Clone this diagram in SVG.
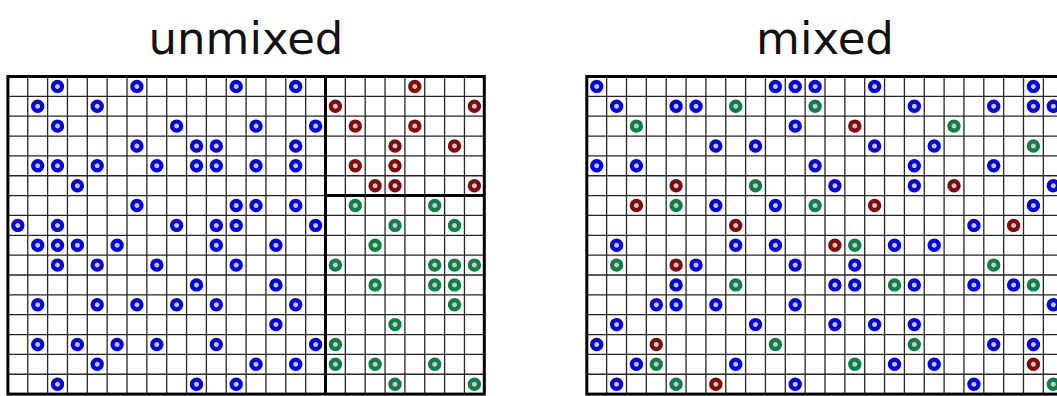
<svg xmlns="http://www.w3.org/2000/svg" xmlns:xlink="http://www.w3.org/1999/xlink" width="1057" height="396" viewBox="0 0 1057 396">
<style>
.title{font-family:"DejaVu Sans","Liberation Sans",sans-serif;font-size:45px;fill:#111;text-anchor:middle}
.grid{fill:none;stroke:#262626;stroke-width:1.3}
.border{fill:none;stroke:#000;stroke-width:3}
</style>
<defs>
<circle id="b" r="4.6" fill="#c8c8c8" stroke="#0000e6" stroke-width="4.2"/>
<circle id="r" r="4.6" fill="#c8c8c8" stroke="#820808" stroke-width="4.2"/>
<circle id="g" r="4.6" fill="#c8c8c8" stroke="#0a8046" stroke-width="4.2"/>
<path id="lines" d="M19.85 0V317.6M39.7 0V317.6M59.55 0V317.6M79.4 0V317.6M99.25 0V317.6M119.1 0V317.6M138.95 0V317.6M158.8 0V317.6M178.65 0V317.6M198.5 0V317.6M218.35 0V317.6M238.2 0V317.6M258.05 0V317.6M277.9 0V317.6M297.75 0V317.6M317.6 0V317.6M337.45 0V317.6M357.3 0V317.6M377.15 0V317.6M397 0V317.6M416.85 0V317.6M436.7 0V317.6M456.55 0V317.6M0 19.85H476.4M0 39.7H476.4M0 59.55H476.4M0 79.4H476.4M0 99.25H476.4M0 119.1H476.4M0 138.95H476.4M0 158.8H476.4M0 178.65H476.4M0 198.5H476.4M0 218.35H476.4M0 238.2H476.4M0 258.05H476.4M0 277.9H476.4M0 297.75H476.4"/>
</defs>
<rect width="1057" height="396" fill="#fff"/>
<text class="title" x="246" y="54">unmixed</text>
<text class="title" x="825" y="54">mixed</text>

<g id="unmixed-grid" transform="translate(7.9,76.5)">
<rect width="476.4" height="317.6" fill="#fff"/>
<use xlink:href="#lines" class="grid"/>
<rect class="border" width="476.4" height="317.6"/>
<path class="border" d="M317.6 0V317.6M317.6 119.1H476.4"/>
<g id="unmixed-blue">
<use xlink:href="#b" x="49.6" y="9.9"/><use xlink:href="#b" x="129" y="9.9"/><use xlink:href="#b" x="228.3" y="9.9"/><use xlink:href="#b" x="287.8" y="9.9"/>
<use xlink:href="#b" x="29.8" y="29.8"/><use xlink:href="#b" x="89.3" y="29.8"/>
<use xlink:href="#b" x="49.6" y="49.6"/><use xlink:href="#b" x="168.7" y="49.6"/><use xlink:href="#b" x="248.1" y="49.6"/><use xlink:href="#b" x="307.7" y="49.6"/>
<use xlink:href="#b" x="129" y="69.5"/><use xlink:href="#b" x="188.6" y="69.5"/><use xlink:href="#b" x="208.4" y="69.5"/><use xlink:href="#b" x="287.8" y="69.5"/>
<use xlink:href="#b" x="29.8" y="89.3"/><use xlink:href="#b" x="49.6" y="89.3"/><use xlink:href="#b" x="89.3" y="89.3"/><use xlink:href="#b" x="148.9" y="89.3"/><use xlink:href="#b" x="188.6" y="89.3"/><use xlink:href="#b" x="208.4" y="89.3"/><use xlink:href="#b" x="248.1" y="89.3"/><use xlink:href="#b" x="287.8" y="89.3"/>
<use xlink:href="#b" x="69.5" y="109.2"/>
<use xlink:href="#b" x="129" y="129"/><use xlink:href="#b" x="228.3" y="129"/><use xlink:href="#b" x="248.1" y="129"/><use xlink:href="#b" x="287.8" y="129"/>
<use xlink:href="#b" x="9.9" y="148.9"/><use xlink:href="#b" x="49.6" y="148.9"/><use xlink:href="#b" x="168.7" y="148.9"/><use xlink:href="#b" x="208.4" y="148.9"/><use xlink:href="#b" x="228.3" y="148.9"/><use xlink:href="#b" x="307.7" y="148.9"/>
<use xlink:href="#b" x="29.8" y="168.7"/><use xlink:href="#b" x="49.6" y="168.7"/><use xlink:href="#b" x="69.5" y="168.7"/><use xlink:href="#b" x="109.2" y="168.7"/><use xlink:href="#b" x="208.4" y="168.7"/><use xlink:href="#b" x="268" y="168.7"/>
<use xlink:href="#b" x="49.6" y="188.6"/><use xlink:href="#b" x="89.3" y="188.6"/><use xlink:href="#b" x="148.9" y="188.6"/><use xlink:href="#b" x="228.3" y="188.6"/>
<use xlink:href="#b" x="188.6" y="208.4"/><use xlink:href="#b" x="268" y="208.4"/>
<use xlink:href="#b" x="29.8" y="228.3"/><use xlink:href="#b" x="89.3" y="228.3"/><use xlink:href="#b" x="129" y="228.3"/><use xlink:href="#b" x="168.7" y="228.3"/><use xlink:href="#b" x="208.4" y="228.3"/><use xlink:href="#b" x="287.8" y="228.3"/>
<use xlink:href="#b" x="268" y="248.1"/>
<use xlink:href="#b" x="29.8" y="268"/><use xlink:href="#b" x="69.5" y="268"/><use xlink:href="#b" x="109.2" y="268"/><use xlink:href="#b" x="148.9" y="268"/><use xlink:href="#b" x="208.4" y="268"/><use xlink:href="#b" x="307.7" y="268"/>
<use xlink:href="#b" x="89.3" y="287.8"/><use xlink:href="#b" x="248.1" y="287.8"/><use xlink:href="#b" x="287.8" y="287.8"/>
<use xlink:href="#b" x="49.6" y="307.7"/><use xlink:href="#b" x="188.6" y="307.7"/><use xlink:href="#b" x="228.3" y="307.7"/>
</g>
<g id="unmixed-red">
<use xlink:href="#r" x="406.9" y="9.9"/>
<use xlink:href="#r" x="327.5" y="29.8"/><use xlink:href="#r" x="466.5" y="29.8"/>
<use xlink:href="#r" x="347.4" y="49.6"/><use xlink:href="#r" x="406.9" y="49.6"/>
<use xlink:href="#r" x="387.1" y="69.5"/><use xlink:href="#r" x="446.6" y="69.5"/>
<use xlink:href="#r" x="347.4" y="89.3"/><use xlink:href="#r" x="387.1" y="89.3"/>
<use xlink:href="#r" x="367.2" y="109.2"/><use xlink:href="#r" x="387.1" y="109.2"/><use xlink:href="#r" x="466.5" y="109.2"/>
</g>
<g id="unmixed-green">
<use xlink:href="#g" x="347.4" y="129"/><use xlink:href="#g" x="426.8" y="129"/>
<use xlink:href="#g" x="387.1" y="148.9"/><use xlink:href="#g" x="446.6" y="148.9"/>
<use xlink:href="#g" x="367.2" y="168.7"/>
<use xlink:href="#g" x="327.5" y="188.6"/><use xlink:href="#g" x="426.8" y="188.6"/><use xlink:href="#g" x="446.6" y="188.6"/><use xlink:href="#g" x="466.5" y="188.6"/>
<use xlink:href="#g" x="367.2" y="208.4"/><use xlink:href="#g" x="426.8" y="208.4"/><use xlink:href="#g" x="446.6" y="208.4"/>
<use xlink:href="#g" x="446.6" y="228.3"/>
<use xlink:href="#g" x="387.1" y="248.1"/>
<use xlink:href="#g" x="327.5" y="268"/>
<use xlink:href="#g" x="327.5" y="287.8"/><use xlink:href="#g" x="367.2" y="287.8"/><use xlink:href="#g" x="426.8" y="287.8"/>
<use xlink:href="#g" x="387.1" y="307.7"/><use xlink:href="#g" x="466.5" y="307.7"/>
</g>
</g>

<g id="mixed-grid" transform="translate(586.8,76.5)">
<rect width="476.4" height="317.6" fill="#fff"/>
<use xlink:href="#lines" class="grid"/>
<rect class="border" width="476.4" height="317.6"/>
<g id="mixed-blue">
<use xlink:href="#b" x="9.9" y="9.9"/><use xlink:href="#b" x="188.6" y="9.9"/><use xlink:href="#b" x="208.4" y="9.9"/><use xlink:href="#b" x="228.3" y="9.9"/><use xlink:href="#b" x="287.8" y="9.9"/><use xlink:href="#b" x="446.6" y="9.9"/>
<use xlink:href="#b" x="29.8" y="29.8"/><use xlink:href="#b" x="89.3" y="29.8"/><use xlink:href="#b" x="109.2" y="29.8"/><use xlink:href="#b" x="327.5" y="29.8"/><use xlink:href="#b" x="406.9" y="29.8"/><use xlink:href="#b" x="446.6" y="29.8"/><use xlink:href="#b" x="466.5" y="29.8"/>
<use xlink:href="#b" x="208.4" y="49.6"/>
<use xlink:href="#b" x="129" y="69.5"/><use xlink:href="#b" x="168.7" y="69.5"/><use xlink:href="#b" x="287.8" y="69.5"/><use xlink:href="#b" x="347.4" y="69.5"/>
<use xlink:href="#b" x="9.9" y="89.3"/><use xlink:href="#b" x="49.6" y="89.3"/><use xlink:href="#b" x="228.3" y="89.3"/><use xlink:href="#b" x="327.5" y="89.3"/><use xlink:href="#b" x="406.9" y="89.3"/>
<use xlink:href="#b" x="248.1" y="109.2"/><use xlink:href="#b" x="327.5" y="109.2"/><use xlink:href="#b" x="466.5" y="109.2"/>
<use xlink:href="#b" x="129" y="129"/><use xlink:href="#b" x="188.6" y="129"/><use xlink:href="#b" x="446.6" y="129"/>
<use xlink:href="#b" x="387.1" y="148.9"/>
<use xlink:href="#b" x="29.8" y="168.7"/><use xlink:href="#b" x="148.9" y="168.7"/><use xlink:href="#b" x="188.6" y="168.7"/><use xlink:href="#b" x="307.7" y="168.7"/><use xlink:href="#b" x="347.4" y="168.7"/>
<use xlink:href="#b" x="109.2" y="188.6"/><use xlink:href="#b" x="208.4" y="188.6"/><use xlink:href="#b" x="268" y="188.6"/>
<use xlink:href="#b" x="89.3" y="208.4"/><use xlink:href="#b" x="248.1" y="208.4"/><use xlink:href="#b" x="268" y="208.4"/><use xlink:href="#b" x="327.5" y="208.4"/><use xlink:href="#b" x="387.1" y="208.4"/><use xlink:href="#b" x="426.8" y="208.4"/>
<use xlink:href="#b" x="69.5" y="228.3"/><use xlink:href="#b" x="89.3" y="228.3"/><use xlink:href="#b" x="129" y="228.3"/><use xlink:href="#b" x="208.4" y="228.3"/><use xlink:href="#b" x="466.5" y="228.3"/>
<use xlink:href="#b" x="29.8" y="248.1"/><use xlink:href="#b" x="168.7" y="248.1"/><use xlink:href="#b" x="248.1" y="248.1"/><use xlink:href="#b" x="287.8" y="248.1"/><use xlink:href="#b" x="327.5" y="248.1"/>
<use xlink:href="#b" x="9.9" y="268"/><use xlink:href="#b" x="406.9" y="268"/><use xlink:href="#b" x="446.6" y="268"/>
<use xlink:href="#b" x="49.6" y="287.8"/><use xlink:href="#b" x="148.9" y="287.8"/><use xlink:href="#b" x="307.7" y="287.8"/><use xlink:href="#b" x="347.4" y="287.8"/>
<use xlink:href="#b" x="29.8" y="307.7"/><use xlink:href="#b" x="208.4" y="307.7"/><use xlink:href="#b" x="387.1" y="307.7"/>
</g>
<g id="mixed-red">
<use xlink:href="#r" x="268" y="49.6"/>
<use xlink:href="#r" x="89.3" y="109.2"/><use xlink:href="#r" x="367.2" y="109.2"/>
<use xlink:href="#r" x="49.6" y="129"/><use xlink:href="#r" x="287.8" y="129"/>
<use xlink:href="#r" x="148.9" y="148.9"/><use xlink:href="#r" x="426.8" y="148.9"/>
<use xlink:href="#r" x="248.1" y="168.7"/>
<use xlink:href="#r" x="89.3" y="188.6"/>
<use xlink:href="#r" x="69.5" y="268"/>
<use xlink:href="#r" x="446.6" y="287.8"/>
<use xlink:href="#r" x="129" y="307.7"/>
</g>
<g id="mixed-green">
<use xlink:href="#g" x="148.9" y="29.8"/><use xlink:href="#g" x="228.3" y="29.8"/>
<use xlink:href="#g" x="49.6" y="49.6"/><use xlink:href="#g" x="367.2" y="49.6"/>
<use xlink:href="#g" x="446.6" y="69.5"/>
<use xlink:href="#g" x="168.7" y="109.2"/>
<use xlink:href="#g" x="89.3" y="129"/><use xlink:href="#g" x="228.3" y="129"/>
<use xlink:href="#g" x="268" y="168.7"/>
<use xlink:href="#g" x="29.8" y="188.6"/><use xlink:href="#g" x="406.9" y="188.6"/>
<use xlink:href="#g" x="148.9" y="208.4"/><use xlink:href="#g" x="307.7" y="208.4"/><use xlink:href="#g" x="446.6" y="208.4"/>
<use xlink:href="#g" x="188.6" y="268"/><use xlink:href="#g" x="327.5" y="268"/>
<use xlink:href="#g" x="69.5" y="287.8"/><use xlink:href="#g" x="268" y="287.8"/>
<use xlink:href="#g" x="89.3" y="307.7"/><use xlink:href="#g" x="466.5" y="307.7"/>
</g>
</g>
</svg>
